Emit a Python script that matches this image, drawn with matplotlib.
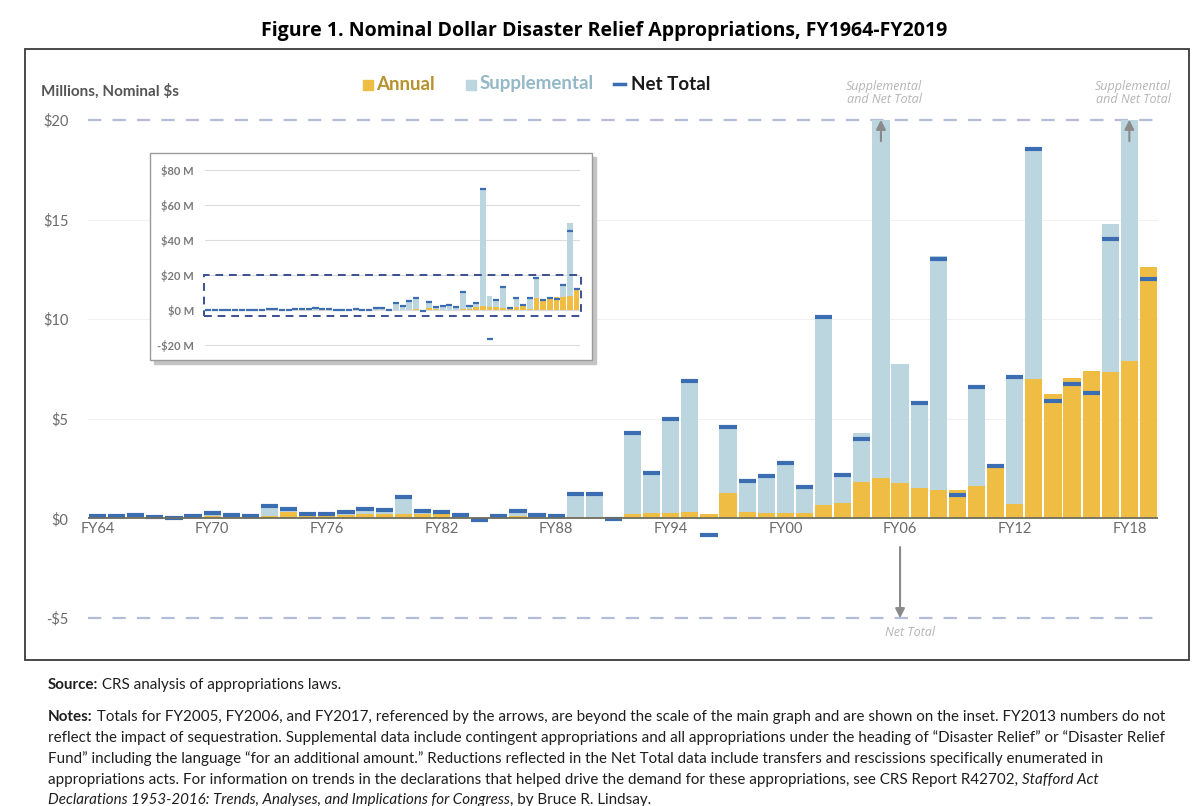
import numpy as np
import matplotlib
matplotlib.use("Agg")
import matplotlib.pyplot as plt
from matplotlib.patches import Rectangle

# FY1964 - FY2019, millions of nominal dollars
years = np.arange(1964, 2020)
annual = [0.05, 0.05, 0.05, 0.02, 0.02, 0.05, 0.13, 0.05, 0.05, 0.13,
          0.32, 0.15, 0.15, 0.15, 0.20, 0.20, 0.20, 0.23, 0.23, 0.10,
          0.00, 0.05, 0.13, 0.10, 0.05, 0.08, 0.08, 0.00, 0.20, 0.27,
          0.27, 0.30, 0.22, 1.30, 0.30, 0.28, 0.27, 0.27, 0.69, 0.79,
          1.84, 2.04, 1.78, 1.52, 1.41, 1.41, 1.62, 2.60, 0.70, 7.02,
          6.26, 7.05, 7.40, 7.35, 7.90, 12.60]
supplemental = [0.05, 0.05, 0.12, 0.03, 0.01, 0.05, 0.12, 0.10, 0.05, 0.47,
                0.15, 0.05, 0.05, 0.15, 0.27, 0.22, 0.87, 0.14, 0.09, 0.07,
                0.00, 0.05, 0.22, 0.05, 0.05, 1.12, 1.17, 0.00, 4.07, 2.01,
                4.72, 6.58, 0.00, 3.30, 1.60, 1.84, 2.49, 1.29, 9.44, 1.40,
                2.46, 66.96, 5.99, 4.26, 11.76, 0.00, 4.98, 0.00, 6.42, 11.51,
                0.00, 0.00, 0.00, 7.42, 42.00, 0.00]
net_total = [0.10, 0.10, 0.17, 0.05, 0.03, 0.10, 0.25, 0.15, 0.10, 0.60,
             0.47, 0.20, 0.20, 0.30, 0.47, 0.42, 1.07, 0.37, 0.32, 0.17,
             -0.06, 0.10, 0.35, 0.15, 0.10, 1.20, 1.25, -0.05, 4.27, 2.28,
             4.99, 6.88, -0.85, 4.60, 1.90, 2.12, 2.76, 1.56, 10.13, 2.19,
             4.00, 69.00, -16.60, 5.78, 13.00, 1.17, 6.60, 2.63, 7.12, 18.53,
             5.90, 6.77, 6.31, 14.02, 45.30, 12.04]
tick_years = [1964, 1970, 1976, 1982, 1988, 1994, 2000, 2006, 2012, 2018]
tick_labels = ["FY64", "FY70", "FY76", "FY82", "FY88", "FY94", "FY00", "FY06", "FY12", "FY18"]
main_ticks = [-5, 0, 5, 10, 15, 20]
main_tick_labels = ["-$5", "$0", "$5", "$10", "$15", "$20"]
inset_ticks = [-20, 0, 20, 40, 60, 80]
inset_tick_labels = ["-$20 M", "$0 M", "$20 M", "$40 M", "$60 M", "$80 M"]

annual = np.array(annual)
supplemental = np.array(supplemental)
net_total = np.array(net_total)

c_annual = "#f0bd44"
c_supp = "#bcd6df"
c_net = "#3b6db3"
c_grid_dash = "#b4bdd8"
c_label = "#6b6b6b"

W, H = 1200, 806
fig = plt.figure(figsize=(12, 8.06), dpi=100)


def fx(x):
    return x / W


def fy(y):
    return 1 - y / H


# outer frame
fig.patches.append(Rectangle((fx(25), fy(660)), fx(1189) - fx(25), fy(49) - fy(660),
                             transform=fig.transFigure, fill=False,
                             edgecolor="#3a3a3a", lw=1.3))

fig.text(fx(604), fy(31), "Figure 1. Nominal Dollar Disaster Relief Appropriations, FY1964-FY2019",
         ha="center", va="center", fontsize=14, fontweight="bold", family="Open Sans")

# main axes
ylo, yhi = -5.5, 20.3
px_per = 19.92
ax_bottom = 618 + (-5 - ylo) * px_per
ax_top = 120 - (yhi - 20) * px_per
ax = fig.add_axes([fx(88), fy(ax_bottom), fx(1158) - fx(88), fy(ax_top) - fy(ax_bottom)])
ax.set_xlim(1963.5, 2019.5)
ax.set_ylim(ylo, yhi)

shown_supp = np.minimum(annual + supplemental, 20) - annual
ax.bar(years, annual, width=0.9, color=c_annual, zorder=2)
ax.bar(years, shown_supp, bottom=annual, width=0.9, color=c_supp, zorder=2)
ax.hlines(net_total, years - 0.45, years + 0.45, color=c_net, lw=3, zorder=3)

for v in [5, 10, 15]:
    ax.axhline(v, color="#f0f0f0", lw=0.8, zorder=0)
for v in [20, -5]:
    ax.axhline(v, color=c_grid_dash, lw=1.6, dashes=(6, 5), zorder=1)
ax.axhline(0, color="#6e6e5e", lw=1.3, zorder=4)

for s in ax.spines.values():
    s.set_visible(False)
ax.set_yticks(main_ticks)
ax.set_yticklabels(main_tick_labels, family="Lato", fontsize=10.5, color=c_label)
ax.set_xticks([])
ax.tick_params(length=0, pad=14)
for yr, lab in zip(tick_years, tick_labels):
    ax.text(yr, -0.55, lab, ha="center", va="center", family="Lato",
            fontsize=10.5, color=c_label)

# arrows and notes for values beyond the scale
arrow_kw = dict(arrowstyle="-|>", color="#8a8a8a", lw=1.5, mutation_scale=14)
ax.annotate("", xy=(2005, 20.15), xytext=(2005, 18.8), arrowprops=arrow_kw, annotation_clip=False)
ax.annotate("", xy=(2018, 20.15), xytext=(2018, 18.8), arrowprops=arrow_kw, annotation_clip=False)
ax.annotate("", xy=(2006, -5.15), xytext=(2006, -1.3), arrowprops=arrow_kw, annotation_clip=False)
note_kw = dict(ha="center", va="center", fontsize=9, style="italic", color="#b5b5b5",
               family="Open Sans", linespacing=1.05)
fig.text(fx(884), fy(93), "Supplemental\nand Net Total", **note_kw)
fig.text(fx(1133), fy(93), "Supplemental\nand Net Total", **note_kw)
fig.text(fx(910), fy(632), "Net Total", **note_kw)

fig.text(fx(41), fy(91), "Millions, Nominal $s", ha="left", va="center",
         family="Lato", fontsize=11, fontweight="bold", color="#555555")

# legend
fig.patches.append(Rectangle((fx(363), fy(90)), fx(10), fy(0) - fy(10),
                             transform=fig.transFigure, color=c_annual))
fig.text(fx(376), fy(84), "Annual", ha="left", va="center", family="Lato",
         fontsize=13.5, fontweight="bold", color="#b8922c")
fig.patches.append(Rectangle((fx(466), fy(90)), fx(10), fy(0) - fy(10),
                             transform=fig.transFigure, color=c_supp))
fig.text(fx(480), fy(84), "Supplemental", ha="left", va="center", family="Lato",
         fontsize=13.5, fontweight="bold", color="#94b8c6")
fig.lines.append(plt.Line2D([fx(614), fx(625)], [fy(84), fy(84)], transform=fig.transFigure,
                            color=c_net, lw=2.5))
fig.text(fx(631), fy(84), "Net Total", ha="left", va="center", family="Lato",
         fontsize=13.5, fontweight="bold", color="#1a1a1a")

# inset
fig.patches.append(Rectangle((fx(154), fy(364)), fx(592) - fx(150), fy(153) - fy(360),
                             transform=fig.transFigure, color="#c4c4c4", zorder=5))
fig.patches.append(Rectangle((fx(150), fy(360)), fx(592) - fx(150), fy(153) - fy(360),
                             transform=fig.transFigure, facecolor="white",
                             edgecolor="#9a9a9a", lw=1, zorder=6))
ip = 1.75
i_lo, i_hi = -24, 86
i_bottom = 310 - i_lo * ip
i_top = 310 - i_hi * ip
ins = fig.add_axes([fx(205), fy(i_bottom), fx(580) - fx(205), fy(i_top) - fy(i_bottom)], zorder=7)
ins.patch.set_alpha(0)
ins.set_xlim(1963.5, 2019.5)
ins.set_ylim(i_lo, i_hi)
ins.bar(years, annual, width=0.85, color=c_annual, zorder=2)
ins.bar(years, supplemental, bottom=annual, width=0.85, color=c_supp, zorder=2)
ins.hlines(net_total, years - 0.45, years + 0.45, color=c_net, lw=1.6, zorder=3)
for v in inset_ticks:
    ins.axhline(v, color="#dcdcdc", lw=0.8, zorder=0)
for s in ins.spines.values():
    s.set_visible(False)
ins.set_xticks([])
ins.set_yticks(inset_ticks)
ins.set_yticklabels(inset_tick_labels, family="Lato", fontsize=8, fontweight="bold",
                    color="#7a7a7a")
ins.tick_params(length=0, pad=8)
ins.add_patch(Rectangle((1963.3, -3.4), 56.4, 23.4, fill=False, edgecolor="#3b4f8f",
                        lw=1.4, ls=(0, (4, 3)), zorder=4, clip_on=False))

# source and notes, drawn as runs of plain / bold / italic text
fig.canvas.draw()
renderer = fig.canvas.get_renderer()
note_font = dict(family="Lato", fontsize=10.9, color="#1e1e1e")


def draw_runs(x, y, runs):
    for text, weight, style in runs:
        t = fig.text(fx(x), fy(y), text, ha="left", va="center", fontweight=weight,
                     style=style, **note_font)
        x += t.get_window_extent(renderer).width


N, B, I = "normal", "bold", "italic"
draw_runs(48, 685, [("Source:", B, N), (" CRS analysis of appropriations laws.", N, N)])
draw_runs(48, 717, [("Notes:", B, N), (" Totals for FY2005, FY2006, and FY2017, referenced by the arrows, are beyond the scale of the main graph and are shown on the inset. FY2013 numbers do not", N, N)])
draw_runs(48, 738, [("reflect the impact of sequestration. Supplemental data include contingent appropriations and all appropriations under the heading of \u201cDisaster Relief\u201d or \u201cDisaster Relief", N, N)])
draw_runs(48, 759, [("Fund\u201d including the language \u201cfor an additional amount.\u201d Reductions reflected in the Net Total data include transfers and rescissions specifically enumerated in", N, N)])
draw_runs(48, 780, [("appropriations acts. For information on trends in the declarations that helped drive the demand for these appropriations, see CRS Report R42702, ", N, N),
                    ("Stafford Act", N, I)])
draw_runs(48, 800, [("Declarations 1953-2016: Trends, Analyses, and Implications for Congress", N, I),
                    (", by Bruce R. Lindsay.", N, N)])

fig.savefig("out.png", dpi=100)
